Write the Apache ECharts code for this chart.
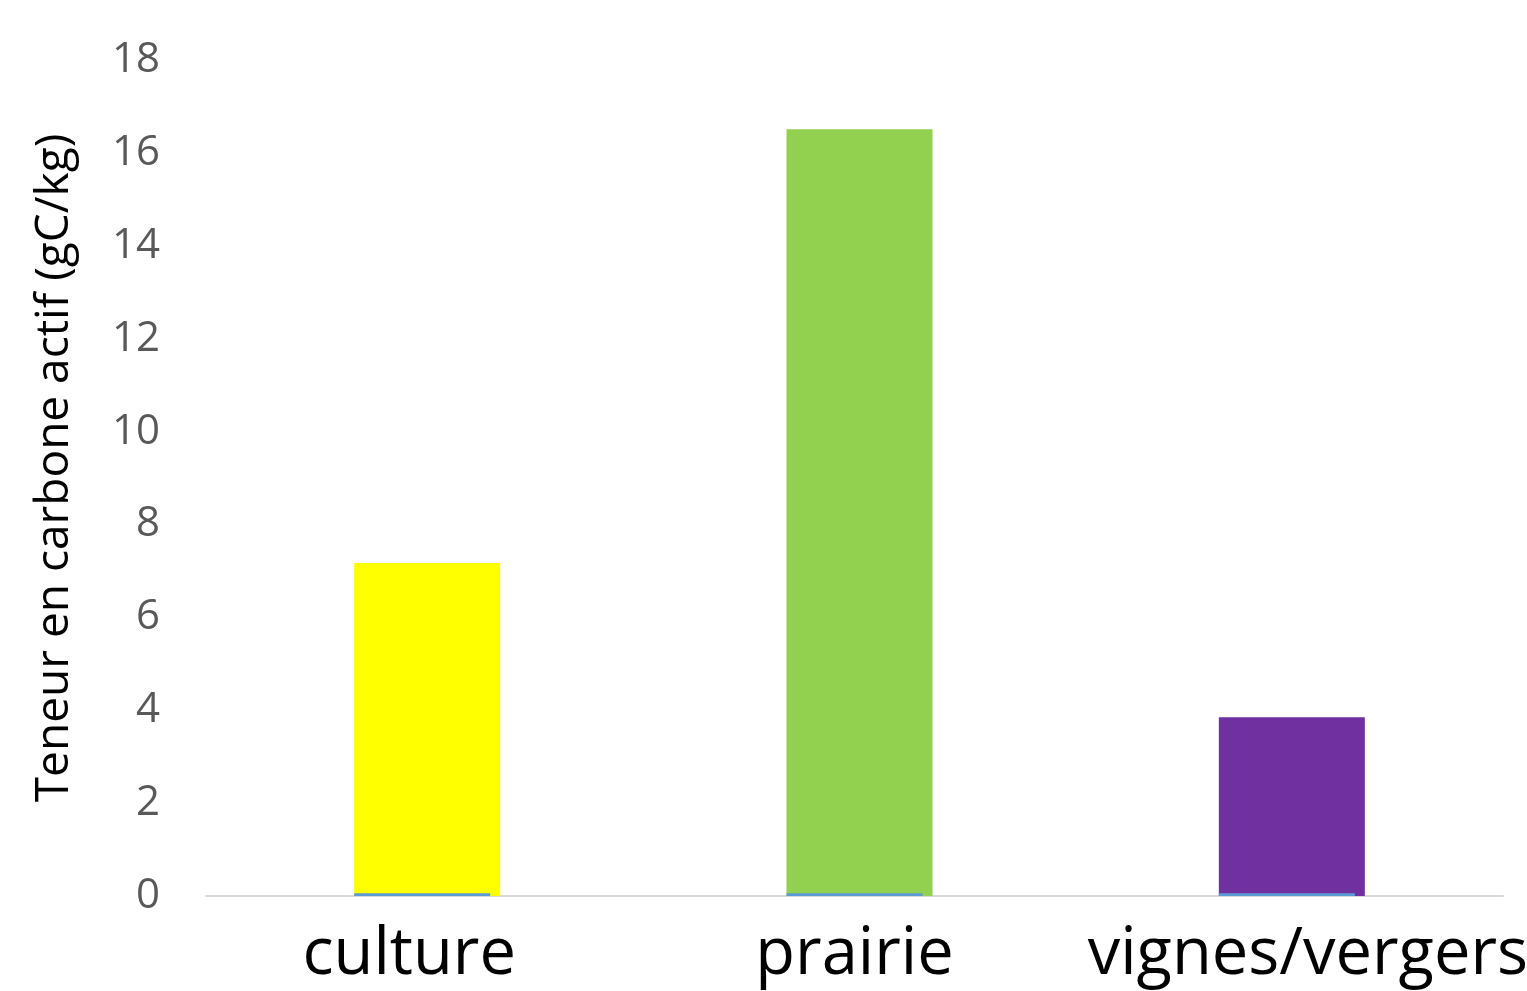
<!DOCTYPE html>
<html><head><meta charset="utf-8">
<script src="https://cdn.jsdelivr.net/npm/echarts@6/dist/echarts.min.js"></script>
<style>html,body{margin:0;padding:0;background:#fff}#c{width:1527px;height:991px}</style>
</head><body><div id="c"></div>
<script>
const categories = ['culture', 'prairie', 'vignes/vergers'];
const values = [7.17, 16.51, 3.85];
const baseValues = [0.06, 0.06, 0.06];
const barColors = ['#ffff00', '#92d050', '#7030a0'];
const yTicks = [0, 2, 4, 6, 8, 10, 12, 14, 16, 18];
const yTitle = 'Teneur en carbone actif (gC/kg)';

const labelPad = [[0, 26, 0, 0], [0, 0, 0, 0], [0, 0, 0, 42]];

const chart = echarts.init(document.getElementById('c'));
chart.setOption({
  animation: false,
  grid: { left: 206, right: 24, top: 60, bottom: 95, containLabel: false, outerBoundsMode: 'none' },
  xAxis: {
    type: 'category',
    data: categories.map((c, i) => ({ value: c, textStyle: { padding: labelPad[i] } })),
    axisLine: { lineStyle: { color: '#d9d9d9', width: 2 } },
    axisTick: { show: false },
    axisLabel: { color: '#000', fontSize: 65, fontFamily: 'Open Sans', margin: 27, interval: 0, hideOverlap: false }
  },
  yAxis: {
    type: 'value', min: yTicks[0], max: yTicks[yTicks.length - 1], interval: 2,
    name: yTitle, nameLocation: 'middle', nameGap: 128, nameRotate: 90,
    nameTextStyle: { color: '#000', fontSize: 46, fontFamily: 'Open Sans', padding: [0, 0, 0, 20] },
    axisLine: { show: false }, axisTick: { show: false },
    splitLine: { show: false },
    axisLabel: { color: '#595959', fontSize: 42, fontFamily: 'Open Sans', margin: 46 }
  },
  series: [{
    type: 'bar', barWidth: 146,
    data: values.map((v, i) => ({ value: v, itemStyle: { color: barColors[i] } }))
  }, {
    type: 'bar', barWidth: 136, barGap: '-100%', z: 3,
    itemStyle: { color: '#5b9bd5' },
    data: baseValues
  }]
});
</script></body></html>
